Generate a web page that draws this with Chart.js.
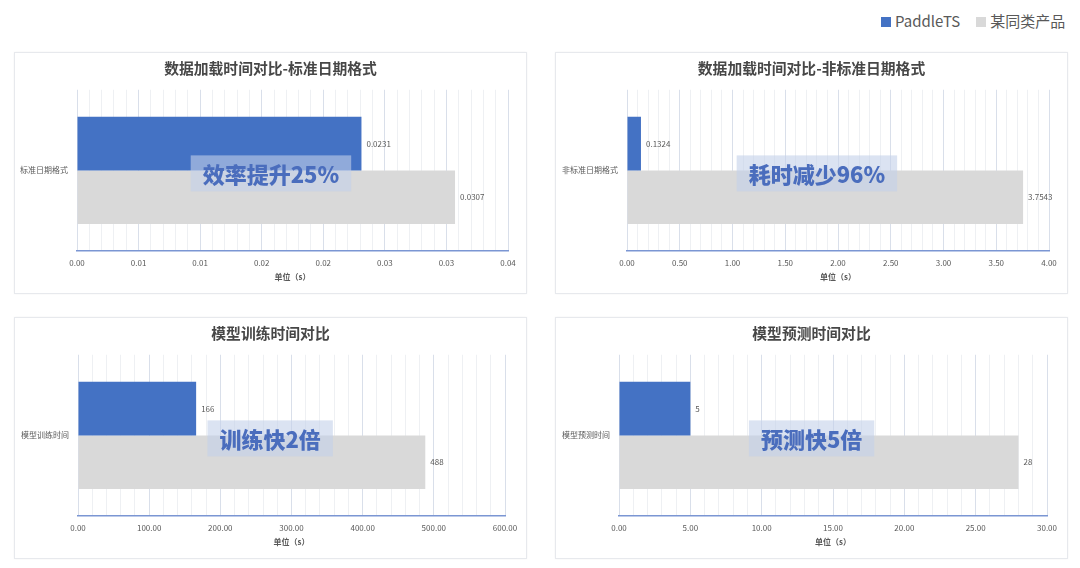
<!DOCTYPE html>
<html>
<head>
<meta charset="utf-8">
<script src="https://cdn.jsdelivr.net/npm/chart.js@4.4.1/dist/chart.umd.min.js"></script>
<style>
  body { margin: 0; background: #fff; width: 1080px; height: 568px; position: relative; overflow: hidden;
         font-family: "Noto Sans CJK SC", "Noto Sans", sans-serif; }
  .panel { position: absolute; width: 513px; height: 242px; box-sizing: border-box;
           border: 1px solid #e7e9ed; box-shadow: 0 0 2px rgba(0,0,0,0.05); background: #fff; }
  .panel canvas { position: absolute; left: 0; top: 0; }
  .legend { position: absolute; top: 10px; left: 881px; font-size: 15px; color: #595959; white-space: nowrap; }
  .legend span.sw { display: inline-block; width: 10px; height: 10px; margin-right: 4px; vertical-align: 0px; }
</style>
</head>
<body>
<div class="legend" id="legend"></div>
<div class="panel" style="left:14px; top:52px"><canvas id="chart-0" width="511" height="240"></canvas></div>
<div class="panel" style="left:555px; top:52px"><canvas id="chart-1" width="511" height="240"></canvas></div>
<div class="panel" style="left:14px; top:317px"><canvas id="chart-2" width="511" height="240"></canvas></div>
<div class="panel" style="left:555px; top:317px"><canvas id="chart-3" width="511" height="240"></canvas></div>
<script>
// data
const seriesNames = ['PaddleTS', '某同类产品'];
const titles = ['数据加载时间对比-标准日期格式', '数据加载时间对比-非标准日期格式', '模型训练时间对比', '模型预测时间对比'];
const categories = ['标准日期格式', '非标准日期格式', '模型训练时间', '模型预测时间'];
const paddleValues = [0.0231, 0.1324, 166, 5];
const otherValues = [0.0307, 3.7543, 488, 28];
const axisMax = [0.035, 4, 600, 30];
const minorSteps = [0.001, 0.1, 20, 1];
const tickLabels0 = ['0.00', '0.01', '0.01', '0.02', '0.02', '0.03', '0.03', '0.04'];
const tickLabels1 = ['0.00', '0.50', '1.00', '1.50', '2.00', '2.50', '3.00', '3.50', '4.00'];
const tickLabels2 = ['0.00', '100.00', '200.00', '300.00', '400.00', '500.00', '600.00'];
const tickLabels3 = ['0.00', '5.00', '10.00', '15.00', '20.00', '25.00', '30.00'];
const badges = ['效率提升25%', '耗时减少96%', '训练快2倍', '预测快5倍'];
const axisTitle = '单位（s）';

const tickLabels = [tickLabels0, tickLabels1, tickLabels2, tickLabels3];
const colors = ['#4472C4', '#D9D9D9'];
const rightPad = [18, 18, 21, 20];
const yAxisWidth = [57, 66, 58, 58];

Chart.defaults.font.family = '"Noto Sans CJK SC", "Noto Sans", sans-serif';

// legend
document.getElementById('legend').innerHTML = seriesNames.map((n, i) =>
  '<span class="sw" style="background:' + colors[i] + '"></span><span style="margin-right:' + (i ? 0 : 16) + 'px">' + n + '</span>'
).join('');

// value labels + badge overlay
const barLabels = {
  id: 'barLabels',
  afterLayout(chart) {
    // centre the title on the whole box, not on the padded area
    if (chart.titleBlock) {
      chart.titleBlock.left = 0;
      chart.titleBlock.right = chart.width;
    }
  },
  afterDatasetsDraw(chart, args, opts) {
    const ctx = chart.ctx;
    ctx.save();
    ctx.font = '8px "Noto Sans CJK SC"';
    ctx.fillStyle = '#595959';
    ctx.textBaseline = 'middle';
    chart.data.datasets.forEach((ds, i) => {
      chart.getDatasetMeta(i).data.forEach((bar, j) => {
        ctx.fillText(String(ds.data[j]), bar.x + 5, bar.y);
      });
    });

    const area = chart.chartArea;
    ctx.font = '900 22px "Noto Sans CJK SC"';
    const w = ctx.measureText(opts.badge).width + 24;
    const h = 36;
    const cx = area.left + area.width * 0.45;
    const cy = chart.scales.y.getPixelForValue(0) + 3;
    ctx.fillStyle = 'rgba(195, 208, 234, 0.6)';
    ctx.fillRect(cx - w / 2, cy - h / 2, w, h);
    ctx.fillStyle = '#4a6dbd';
    ctx.textAlign = 'center';
    ctx.fillText(opts.badge, cx, cy + 1);
    ctx.restore();
  }
};

function createChart(i) {
  const ctx = document.getElementById('chart-' + i).getContext('2d');
  new Chart(ctx, {
    type: 'bar',
    data: {
      labels: [categories[i]],
      datasets: [
        { label: seriesNames[0], data: [paddleValues[i]], backgroundColor: colors[0] },
        { label: seriesNames[1], data: [otherValues[i]], backgroundColor: colors[1] }
      ]
    },
    options: {
      indexAxis: 'y',
      responsive: false,
      animation: false,
      devicePixelRatio: 1,
      barPercentage: 1,
      categoryPercentage: 0.665,
      layout: { padding: { left: 5, right: rightPad[i], top: 0, bottom: 0 } },
      plugins: {
        legend: { display: false },
        tooltip: { enabled: false },
        title: {
          display: true,
          text: titles[i],
          color: '#474747',
          font: { size: 14.8, weight: 'bold' },
          padding: { top: 6, bottom: 13 }
        },
        barLabels: { badge: badges[i] }
      },
      scales: {
        x: {
          type: 'linear',
          min: 0,
          max: axisMax[i],
          ticks: {
            stepSize: minorSteps[i],
            autoSkip: false,
            maxRotation: 0,
            padding: 7,
            color: '#595959',
            font: { size: 8 },
            callback: (v, idx) => idx % 5 === 0 ? tickLabels[i][idx / 5] : ''
          },
          grid: {
            drawTicks: false,
            color: c => c.index % 5 === 0 ? '#d9dfea' : '#eef0f3'
          },
          border: { color: '#7b96d3', width: 1.5 },
          title: {
            display: true,
            text: axisTitle,
            color: '#595959',
            font: { size: 8, weight: 'bold' },
            padding: { top: 0, bottom: 11 }
          },
          afterFit: s => { s.height = 42; }
        },
        y: {
          grid: { display: false, drawTicks: false },
          border: { display: false },
          ticks: { color: '#595959', font: { size: 8 }, padding: 9 },
          afterFit: s => { s.width = yAxisWidth[i]; }
        }
      }
    },
    plugins: [barLabels]
  });
}

createChart(0)
createChart(1)
createChart(2)
createChart(3)
</script>
</body>
</html>
